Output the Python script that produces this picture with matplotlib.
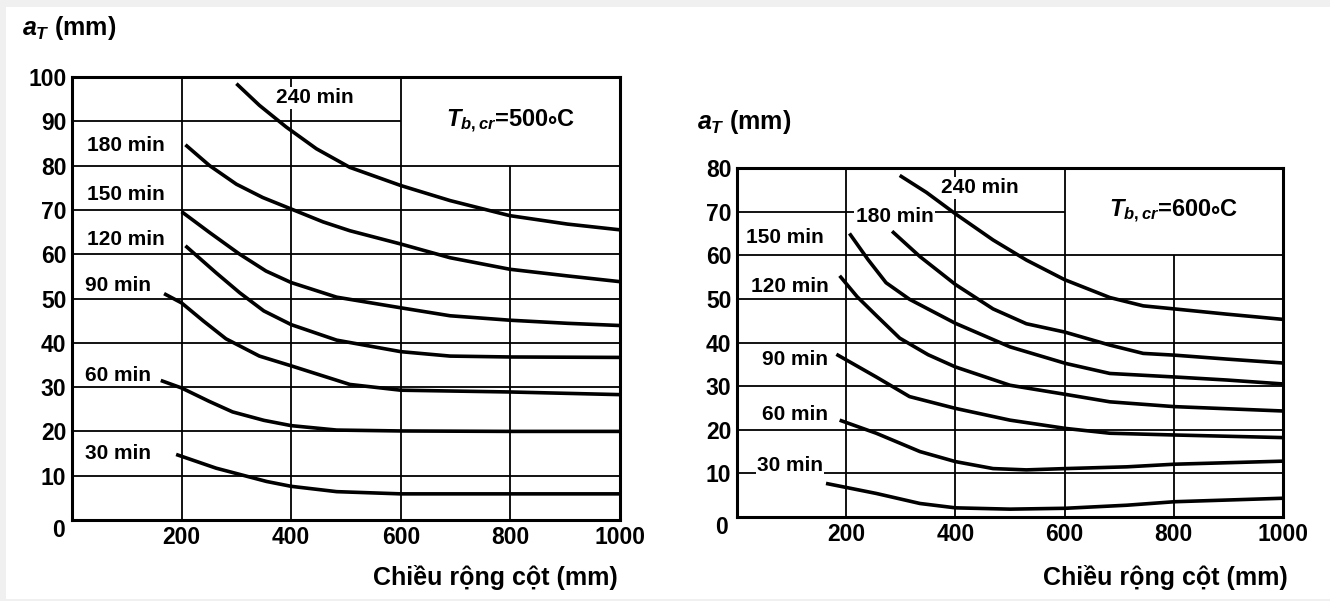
import matplotlib.pyplot as plt
from matplotlib.patches import Rectangle

plt.rcParams['font.family'] = ['Liberation Sans', 'DejaVu Sans']
plt.rcParams['font.weight'] = 'bold'
plt.rcParams['mathtext.fontset'] = 'custom'
plt.rcParams['mathtext.it'] = 'Liberation Sans:bold:italic'
plt.rcParams['mathtext.rm'] = 'Liberation Sans:bold'
plt.rcParams['mathtext.fallback'] = 'stix'

# ---- data: left chart, T_b,cr = 500 C ----
x240_l = [300, 342, 391, 446, 507, 600, 690, 799, 904, 1000]
y240_l = [98.5, 93.6, 88.7, 83.8, 79.6, 75.5, 72.1, 68.7, 66.8, 65.5]
x180_l = [207, 251, 300, 348, 400, 458, 507, 600, 690, 799, 904, 1000]
y180_l = [84.7, 80.0, 75.8, 72.8, 70.2, 67.3, 65.3, 62.3, 59.2, 56.6, 55.1, 53.8]
x150_l = [200, 251, 306, 354, 400, 483, 600, 690, 799, 904, 1000]
y150_l = [69.6, 64.9, 60.0, 56.2, 53.6, 50.3, 47.9, 46.1, 45.1, 44.4, 43.9]
x120_l = [207, 263, 306, 350, 400, 483, 600, 690, 799, 1000]
y120_l = [61.9, 55.8, 51.3, 47.2, 44.1, 40.6, 38.0, 37.0, 36.8, 36.7]
x90_l = [168, 200, 240, 281, 342, 400, 507, 600, 799, 1000]
y90_l = [51.1, 49.0, 44.9, 40.9, 37.0, 34.8, 30.6, 29.3, 28.9, 28.3]
x60_l = [162, 200, 250, 293, 350, 400, 483, 600, 800, 1000]
y60_l = [31.5, 29.8, 26.8, 24.4, 22.5, 21.3, 20.3, 20.1, 20.0, 20.0]
x30_l = [190, 263, 355, 400, 483, 600, 800, 1000]
y30_l = [14.8, 11.7, 8.7, 7.6, 6.4, 5.9, 5.9, 5.9]

# ---- data: right chart, T_b,cr = 600 C ----
x240_r = [298, 347, 400, 469, 530, 600, 683, 744, 801, 897, 1000]
y240_r = [78.3, 74.4, 69.5, 63.5, 58.9, 54.4, 50.3, 48.4, 47.7, 46.5, 45.3]
x180_r = [284, 335, 400, 469, 530, 600, 683, 744, 801, 897, 1000]
y180_r = [65.5, 59.7, 53.3, 47.7, 44.3, 42.4, 39.4, 37.5, 37.1, 36.2, 35.3]
x150_r = [206, 240, 273, 316, 400, 500, 602, 683, 801, 897, 1000]
y150_r = [65.0, 59.0, 53.7, 49.9, 44.4, 39.0, 35.2, 32.9, 32.1, 31.4, 30.5]
x120_r = [188, 220, 255, 298, 350, 400, 500, 602, 683, 801, 1000]
y120_r = [55.3, 50.5, 46.2, 41.0, 37.2, 34.4, 30.2, 28.1, 26.4, 25.3, 24.3]
x90_r = [182, 255, 316, 400, 500, 602, 683, 801, 1000]
y90_r = [37.3, 32.1, 27.6, 24.9, 22.2, 20.3, 19.2, 18.8, 18.2]
x60_r = [188, 255, 335, 400, 469, 530, 602, 714, 801, 1000]
y60_r = [22.2, 19.2, 15.0, 12.7, 11.1, 10.8, 11.1, 11.5, 12.1, 12.8]
x30_r = [163, 255, 335, 400, 500, 602, 714, 801, 1000]
y30_r = [7.7, 5.4, 3.1, 2.1, 1.8, 2.0, 2.7, 3.5, 4.3]

xticks = [200, 400, 600, 800, 1000]
yticks_l = [10, 20, 30, 40, 50, 60, 70, 80, 90, 100]
yticks_r = [10, 20, 30, 40, 50, 60, 70, 80]

labels_l = [("240 min", 443, 95.3), ("180 min", 98, 84.6), ("150 min", 98, 73.4),
            ("120 min", 98, 63.4), ("90 min", 84, 53.0), ("60 min", 84, 32.7),
            ("30 min", 84, 14.9)]
labels_r = [("240 min", 445, 75.5), ("180 min", 289, 68.8), ("150 min", 88, 64.0),
            ("120 min", 97, 52.8), ("90 min", 106, 36.0), ("60 min", 106, 23.4),
            ("30 min", 97, 11.9)]

fig = plt.figure(figsize=(13.3, 6.01), dpi=100)
fig.patch.set_facecolor('#f0f0f0')
fig.add_artist(Rectangle((6 / 1330, 2 / 601), 1, 592 / 601, transform=fig.transFigure,
                         facecolor='white', edgecolor='none', zorder=-10))

ax1 = fig.add_axes([72 / 1330, 1 - 520 / 601, 548 / 1330, 443 / 601])
ax2 = fig.add_axes([737 / 1330, 1 - 517 / 601, 546 / 1330, 349 / 601])


def setup(ax, yticks, ymax, ybox, box_text, zero_xy):
    ax.set_xlim(0, 1000)
    ax.set_ylim(0, ymax)
    for s in ax.spines.values():
        s.set_linewidth(2.2)
    # grid, leaving the corner box for the temperature label empty
    for y in yticks[:-1]:
        if y > ybox:
            ax.hlines(y, 0, 600, color='black', lw=1.3)
        else:
            ax.hlines(y, 0, 1000, color='black', lw=1.3)
    for x in xticks[:-1]:
        if x > 600:
            ax.vlines(x, 0, ybox, color='black', lw=1.3)
        else:
            ax.vlines(x, 0, ymax, color='black', lw=1.3)
    ax.set_xticks(xticks)
    ax.set_yticks(yticks)
    ax.tick_params(length=0, labelsize=16.5, pad=4)
    ax.text(zero_xy[0], zero_xy[1], "0", transform=ax.transAxes, ha='center', va='center',
            fontsize=16.5)
    ax.text(800, (ybox + ymax) / 2, box_text, ha='center', va='center', fontsize=17)


setup(ax1, yticks_l, 100, 80, r"$T_{b,cr}$=500$\circ$C", (-0.0255, -0.0226))
setup(ax2, yticks_r, 80, 60, r"$T_{b,cr}$=600$\circ$C", (-0.0275, -0.0287))

for ax, curves in [(ax1, [(x240_l, y240_l), (x180_l, y180_l), (x150_l, y150_l), (x120_l, y120_l),
                          (x90_l, y90_l), (x60_l, y60_l), (x30_l, y30_l)]),
                   (ax2, [(x240_r, y240_r), (x180_r, y180_r), (x150_r, y150_r), (x120_r, y120_r),
                          (x90_r, y90_r), (x60_r, y60_r), (x30_r, y30_r)])]:
    for xs, ys in curves:
        ax.plot(xs, ys, color='black', lw=2.6, solid_capstyle='butt', solid_joinstyle='round')

for ax, labels in [(ax1, labels_l), (ax2, labels_r)]:
    for txt, x, y in labels:
        ax.text(x, y, txt, ha='center', va='center', fontsize=15,
                bbox=dict(facecolor='white', edgecolor='none', pad=1))

ax1.text(22 / 1330, 1 - 28 / 601, "$a_T$ (mm)", transform=fig.transFigure, ha='left', va='center', fontsize=18)
ax2.text(697 / 1330, 1 - 122 / 601, "$a_T$ (mm)", transform=fig.transFigure, ha='left', va='center', fontsize=18)
ax1.text(495 / 1330, 1 - 578 / 601, "Chiều rộng cột (mm)", transform=fig.transFigure, ha='center', va='center', fontsize=18)
ax2.text(1165 / 1330, 1 - 578 / 601, "Chiều rộng cột (mm)", transform=fig.transFigure, ha='center', va='center', fontsize=18)

fig.savefig("out.png", dpi=100)
